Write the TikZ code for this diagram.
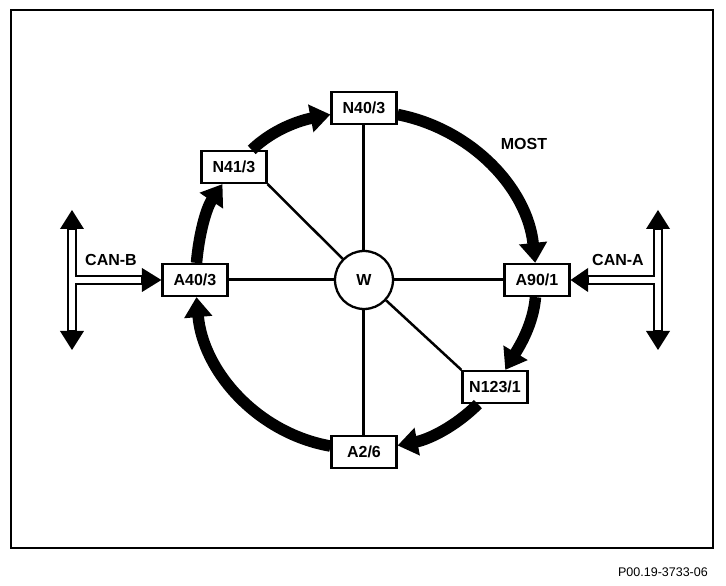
\documentclass[tikz,border=0pt]{standalone}
\usepackage{fontspec}
\setmainfont{Liberation Sans}
\usetikzlibrary{arrows.meta,calc}

\begin{document}
\begin{tikzpicture}[
        x=1pt, y=1pt,
        caja/.style={
            rectangle,
            draw=black,
            fill=white,
            line width=2.2pt,
            minimum width=65pt,
            minimum height=32pt,
            inner sep=0pt,
            font=\fontsize{16}{19}\selectfont\bfseries
        },
        centro/.style={
            circle,
            draw=black,
            fill=white,
            line width=2.3pt,
            minimum size=58pt,
            inner sep=0pt,
            font=\fontsize{16}{19}\selectfont\bfseries
        },
        texto/.style={inner sep=0pt, font=\fontsize{16}{19}\selectfont\bfseries},
        radio/.style={line width=3pt},
        diag/.style={line width=2.5pt},
        flujo/.style={line width=11.5pt, -{Triangle[length=20pt,width=27pt]}},
        bus/.style={draw=black, fill=white, line width=2.4pt, line join=miter}
    ]

    \useasboundingbox (-364,280) rectangle (362,-306);
    \draw[line width=1.6pt] (-353,270) rectangle (349,-268);

    % Anillo MOST
    \node[caja]   (A40)  at (-169,0)    {A40/3};
    \node[caja]   (N41)  at (-130,113)  {N41/3};
    \node[caja]   (N40)  at (0,172)     {N40/3};
    \node[caja]   (A90)  at (173,0)     {A90/1};
    \node[caja]   (N123) at (131,-107)  {N123/1};
    \node[caja]   (A2)   at (0,-172)    {A2/6};
    \node[centro] (W)    at (0,0)       {W};

    \draw[radio] (W) -- (N40);
    \draw[radio] (W) -- (A2);
    \draw[radio] (W) -- (A40);
    \draw[radio] (W) -- (A90);
    \draw[diag]  (W) -- (N41.south east);
    \draw[diag]  (W) -- (N123.north west);

    \draw[flujo] (A40)  to[out=85, in=236, looseness=0.9] (N41);
    \draw[flujo] (N41)  to[out=44, in=191, looseness=0.9] (N40);
    \draw[flujo] (N40)  to[out=-11, in=96, looseness=0.95] (A90);
    \draw[flujo] (A90)  to[out=-95, in=59, looseness=0.9] (N123);
    \draw[flujo] (N123) to[out=225, in=11, looseness=0.9] (A2);
    \draw[flujo] (A2)   to[out=170, in=-85, looseness=0.95] (A40);

    \node[texto] (most) at (160,136) {MOST};

    % Bus CAN-B
    \coordinate (canb) at (-292,0);
    \draw[bus] (canb) ++(-4,51) -- ++(0,-102) -- ++(8,0) -- ++(0,47)
        -- ++(66,0) -- ++(0,8) -- ++(-66,0) -- ++(0,47) -- cycle;
    \fill (canb) ++(-12,51) -- ++(12,19) -- ++(12,-19) -- cycle;
    \fill (canb) ++(-12,-51) -- ++(12,-19) -- ++(12,19) -- cycle;
    \fill (canb) ++(70,12) -- (A40.west) -- ($(canb)+(70,-12)$) -- cycle;
    \node[texto] (lcanb) at (-253,20) {CAN-B};

    % Bus CAN-A
    \coordinate (cana) at (294,0);
    \draw[bus] (cana) ++(4,51) -- ++(0,-102) -- ++(-8,0) -- ++(0,47)
        -- ++(-66,0) -- ++(0,8) -- ++(66,0) -- ++(0,47) -- cycle;
    \fill (cana) ++(-12,51) -- ++(12,19) -- ++(12,-19) -- cycle;
    \fill (cana) ++(-12,-51) -- ++(12,-19) -- ++(12,19) -- cycle;
    \fill (cana) ++(-70,12) -- (A90.east) -- ($(cana)+(-70,-12)$) -- cycle;
    \node[texto] (lcana) at (254,20) {CAN-A};

    \node[anchor=east, inner sep=0pt, font=\fontsize{12.5}{15}\selectfont]
        (codigo) at (344,-292) {P00.19-3733-06};

\end{tikzpicture}
\end{document}
